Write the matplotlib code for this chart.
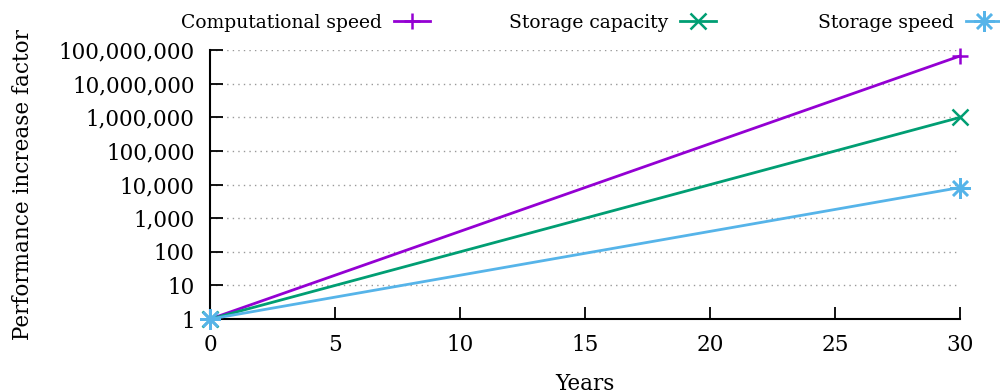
import matplotlib
matplotlib.use('Agg')
from matplotlib import pyplot as plt
from matplotlib.ticker import FuncFormatter, NullLocator

plt.rcParams['font.family'] = 'DejaVu Serif'

years = [0, 30]
computational = [1, 2 ** 26]
capacity = [1, 1_000_000]
storage_speed = [1, 2 ** 13]

labels = ['Computational speed', 'Storage capacity', 'Storage speed']
colors = ['#9400D3', '#009E73', '#56B4E9']
markers = ['+', 'x', (8, 2, 0)]
sizes = [12, 12, 15]
series = [computational, capacity, storage_speed]

fig = plt.figure(figsize=(10, 3.92), dpi=100)
ax = fig.add_axes([0.21, 0.186, 0.75, 0.686])

handles = []
for vals, lab, col, mk, ms in zip(series, labels, colors, markers, sizes):
    h, = ax.plot(years, vals, color=col, lw=2, marker=mk, ms=ms, mew=1.8,
                 label=lab, clip_on=False, zorder=3)
    handles.append(h)

ax.set_yscale('log')
ax.set_xlim(0, 30)
ax.set_ylim(1, 1e8)
ax.set_yticks([10 ** k for k in range(9)])
ax.yaxis.set_minor_locator(NullLocator())
ax.yaxis.set_major_formatter(FuncFormatter(lambda v, p: f'{v:,.0f}'))
ax.set_xticks(range(0, 31, 5))

for s in ['top', 'right']:
    ax.spines[s].set_visible(False)
for s in ['left', 'bottom']:
    ax.spines[s].set_linewidth(1.5)

ax.tick_params(direction='in', length=9, width=1.3, labelsize=15.5, pad=11)
ax.grid(axis='y', color='#999999', linestyle=(0, (1, 3)), lw=1)
ax.set_axisbelow(True)

ax.set_xlabel('Years', fontsize=15.5, labelpad=12)
ax.set_ylabel('Performance increase factor', fontsize=15.5, labelpad=18)

# one key entry per series, evenly spaced across the top
for h, x in zip(handles, [0.430, 0.716, 1.002]):
    fig.legend(handles=[h], loc='center right', bbox_to_anchor=(x, 0.942),
               markerfirst=False, frameon=False, fontsize=13.5,
               borderpad=0, borderaxespad=0,
               handlelength=1.9, handletextpad=0.65)

fig.savefig('out.png')
